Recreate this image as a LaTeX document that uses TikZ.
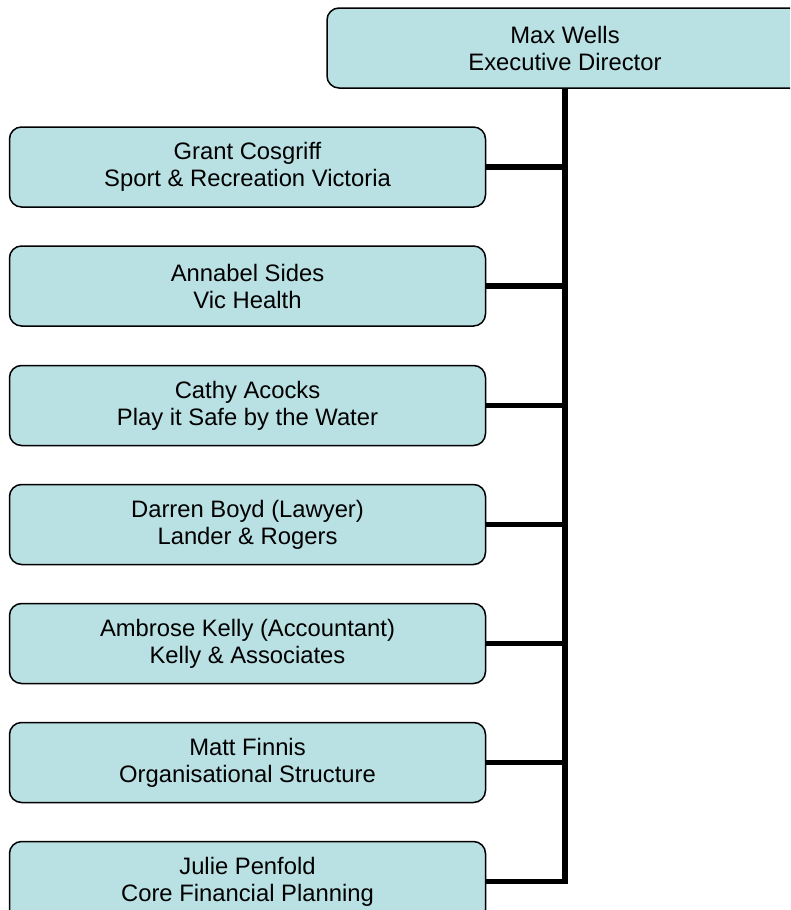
\documentclass[tikz,border=0pt]{standalone}
\usepackage{fontspec}
\setmainfont{Liberation Sans}
\definecolor{boxfill}{RGB}{185,224,227}
\tikzset{
  orgbox/.style={draw=black, line width=1.5pt, fill=boxfill, rounded corners=12pt,
    minimum width=476pt, minimum height=80pt, inner sep=0pt, align=center,
    font=\fontsize{23.8}{27}\selectfont},
  link/.style={line width=5.5pt}
}
\begin{document}
\begin{tikzpicture}[x=1pt,y=-1pt]
\useasboundingbox (0,0) rectangle (790,910);
\clip (0,0) rectangle (790,910);
\node[orgbox] (top) at (565,48) {Max Wells\\Executive Director};
\node[orgbox] (b1) at (247.5,167) {Grant Cosgriff\\Sport \& Recreation Victoria};
\node[orgbox] (b2) at (247.5,286) {Annabel Sides\\Vic Health};
\node[orgbox] (b3) at (247.5,405.5) {Cathy Acocks\\Play it Safe by the Water};
\node[orgbox] (b4) at (247.5,524.5) {Darren Boyd (Lawyer)\\Lander \& Rogers};
\node[orgbox] (b5) at (247.5,643.5) {Ambrose Kelly (Accountant)\\Kelly \& Associates};
\node[orgbox] (b6) at (247.5,762.5) {Matt Finnis\\Organisational Structure};
\node[orgbox] (b7) at (247.5,881.5) {Julie Penfold\\Core Financial Planning};
\draw[link, line join=miter] (top.south) |- (b7.east);
\foreach \b in {b1,b2,b3,b4,b5,b6}
  \draw[link] (\b.east) -- (\b.east -| top.south);
\end{tikzpicture}
\end{document}
